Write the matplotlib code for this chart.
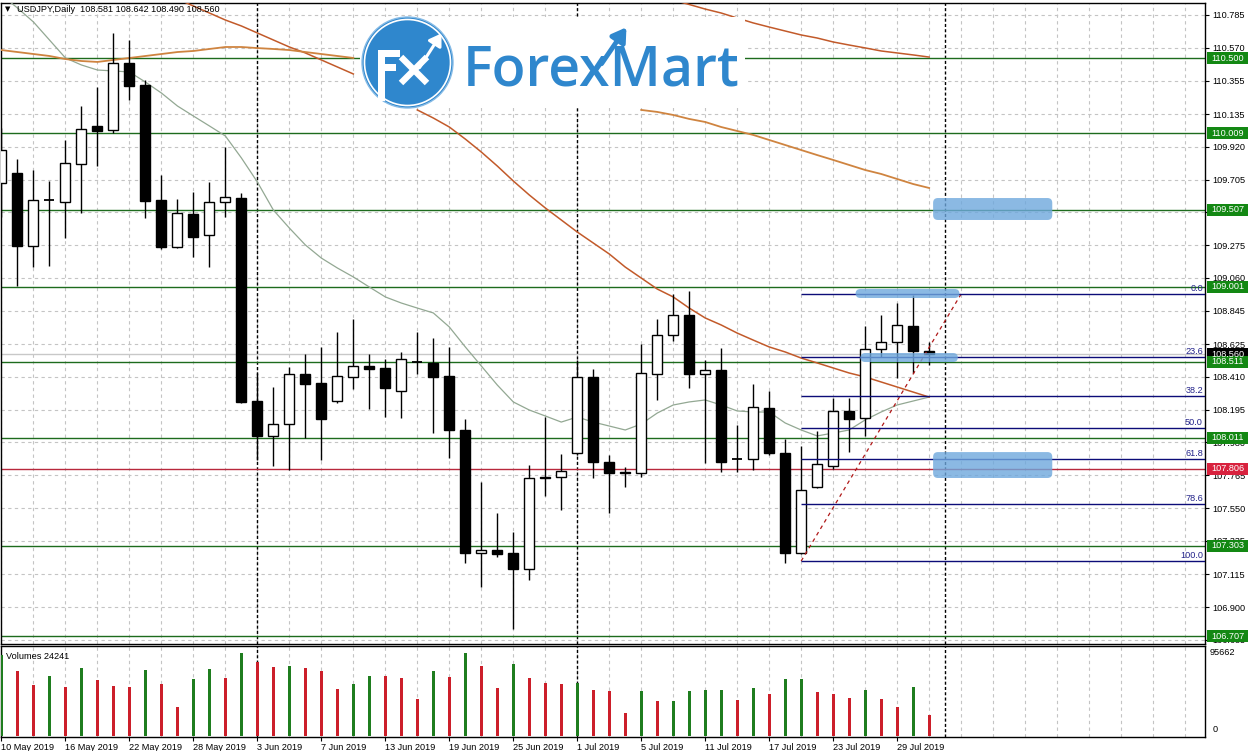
import numpy as np
import matplotlib
matplotlib.use("Agg")
import matplotlib.pyplot as plt
from matplotlib.patches import Rectangle, FancyBboxPatch, Circle
from matplotlib.transforms import blended_transform_factory

plt.rcParams['font.family'] = ['Liberation Sans', 'DejaVu Sans']
nan = float("nan")

# ---------------- data ----------------
header_text = "USDJPY,Daily  108.581 108.642 108.490 108.560"

opens = [109.683, 109.748, 109.269, 109.571, 109.558, 109.807, 110.057, 110.030, 110.470, 110.326,
         109.571, 109.263, 109.479, 109.341, 109.558, 109.584, 108.252, 108.023, 108.101, 108.429,
         108.370, 108.252, 108.410, 108.482, 108.469, 108.318, 108.510, 108.502, 108.416, 108.062,
         107.255, 107.275, 107.255, 107.150, 107.753, 107.753, 107.911, 108.410, 107.852, 107.787,
         107.780, 108.429, 108.685, 108.817, 108.429, 108.456, 107.870, 107.872, 108.206, 107.911,
         107.255, 107.688, 107.826, 108.187, 108.141, 108.593, 108.639, 108.744, 108.581]
highs = [110.044, 109.840, 109.768, 109.696, 109.965, 110.188, 110.313, 110.667, 110.621, 110.358,
         109.735, 109.578, 109.624, 109.689, 109.919, 109.617, 108.436, 108.344, 108.475, 108.561,
         108.607, 108.705, 108.790, 108.561, 108.528, 108.574, 108.705, 108.666, 108.607, 108.134,
         107.721, 107.517, 107.393, 107.832, 108.147, 107.904, 108.521, 108.462, 107.898, 107.819,
         108.626, 108.790, 108.954, 108.974, 108.521, 108.600, 108.095, 108.364, 108.318, 108.003,
         107.957, 108.055, 108.272, 108.272, 108.744, 108.817, 108.895, 108.950, 108.642]
lows = [109.460, 109.007, 109.131, 109.138, 109.322, 109.486, 109.794, 110.011, 110.227, 109.453,
        109.250, 109.255, 109.197, 109.131, 109.460, 108.239, 107.865, 107.826, 107.799, 108.009,
        107.865, 108.240, 108.331, 108.200, 108.147, 108.141, 108.429, 108.042, 107.878, 107.189,
        107.032, 107.229, 106.756, 107.078, 107.629, 107.537, 107.900, 107.747, 107.517, 107.688,
        107.753, 108.259, 108.646, 108.338, 107.845, 107.786, 107.786, 107.799, 107.898, 107.189,
        107.250, 107.680, 107.806, 107.918, 108.023, 108.541, 108.403, 108.436, 108.490]
closes = [109.899, 109.269, 109.571, 109.575, 109.814, 110.037, 110.024, 110.470, 110.319, 109.565,
          109.263, 109.486, 109.328, 109.558, 109.591, 108.246, 108.023, 108.101, 108.429, 108.364,
          108.134, 108.416, 108.482, 108.462, 108.338, 108.528, 108.506, 108.410, 108.062, 107.255,
          107.275, 107.248, 107.150, 107.747, 107.747, 107.793, 108.410, 107.852, 107.780, 107.780,
          108.436, 108.685, 108.817, 108.429, 108.456, 107.852, 107.874, 108.213, 107.911, 107.255,
          107.668, 107.839, 108.187, 108.134, 108.593, 108.639, 108.751, 108.581, 108.560]
volumes = [92600, 74250, 58170, 68500, 56250, 77700, 63900, 57000, 56200, 75400,
           59300, 33300, 65000, 76500, 66200, 95662, 84950, 78850, 80000, 77700,
           74250, 53950, 59300, 68500, 68400, 66200, 42100, 74250, 67350, 94900,
           80350, 55100, 83000, 66600, 60850, 59700, 60850, 52800, 51650, 26400,
           51650, 40200, 40500, 51650, 52800, 53200, 41300, 55100, 48600, 65400,
           65800, 50500, 48600, 44000, 52800, 42500, 33300, 56250, 24241]

ma_fast = [110.916, 110.831, 110.739, 110.621, 110.503, 110.457, 110.424, 110.418, 110.411, 110.345,
           110.273, 110.188, 110.122, 110.057, 109.991, 109.847, 109.689, 109.505, 109.387, 109.276,
           109.190, 109.125, 109.066, 109.000, 108.935, 108.895, 108.862, 108.830, 108.738, 108.607,
           108.482, 108.357, 108.246, 108.193, 108.154, 108.114, 108.147, 108.114, 108.088, 108.062,
           108.101, 108.173, 108.226, 108.246, 108.259, 108.226, 108.187, 108.180, 108.180, 108.108,
           108.062, 108.023, 108.042, 108.062, 108.128, 108.180, 108.226, 108.252, 108.278]
ma_mid = [nan, nan, nan, nan, nan, nan, nan, nan, nan, nan,
          110.929, 110.890, 110.844, 110.798, 110.752, 110.713, 110.667, 110.621, 110.575, 110.536,
          110.490, 110.444, 110.398, nan, nan, nan, 110.162, 110.109, 110.050, 109.971,
          109.886, 109.794, 109.696, 109.604, 109.519, 109.440, 109.361, 109.289, 109.217, 109.131,
          109.059, 108.987, 108.935, 108.862, 108.797, 108.751, 108.698, 108.652, 108.607, 108.574,
          108.534, 108.502, 108.469, 108.436, 108.410, 108.377, 108.344, 108.311, 108.278]
ma_slow = [110.555, 110.542, 110.529, 110.516, 110.496, 110.483, 110.477, 110.490, 110.503, 110.516,
           110.529, 110.542, 110.549, 110.562, 110.575, 110.575, 110.568, 110.562, 110.555, 110.542,
           110.529, 110.516, 110.503, nan, nan, nan, nan, nan, nan, nan,
           nan, nan, nan, nan, nan, nan, nan, nan, nan, nan,
           110.162, 110.149, 110.129, 110.103, 110.083, 110.050, 110.024, 109.998, 109.965, 109.932,
           109.899, 109.866, 109.834, 109.801, 109.768, 109.742, 109.709, 109.676, 109.650]
ma_long = [nan] * 41 + [110.903, 110.883, 110.854, 110.824, 110.798, 110.765, 110.733, 110.706, 110.680,
                        110.654, 110.634, 110.608, 110.588, 110.569, 110.549, 110.536, 110.523, 110.509]

price_ticks = [110.785, 110.570, 110.355, 110.135, 109.920, 109.705, 109.490, 109.275, 109.060, 108.845,
               108.625, 108.410, 108.195, 107.980, 107.765, 107.550, 107.335, 107.115, 106.900, 106.685]
date_labels = ["10 May 2019", "16 May 2019", "22 May 2019", "28 May 2019", "3 Jun 2019", "7 Jun 2019",
               "13 Jun 2019", "19 Jun 2019", "25 Jun 2019", "1 Jul 2019", "5 Jul 2019", "11 Jul 2019",
               "17 Jul 2019", "23 Jul 2019", "29 Jul 2019"]
date_positions = [0, 4, 8, 12, 16, 20, 24, 28, 32, 36, 40, 44, 48, 52, 56]
month_separators = [16, 36, 59]

green_levels = [110.500, 110.009, 109.507, 109.001, 108.511, 108.011, 107.303, 106.707]
red_level = 107.806
bid_price = 108.560

fib_low, fib_high = 107.202, 108.954
fib_start, fib_end = 50, 60
fib_ratios = [0.0, 23.6, 38.2, 50.0, 61.8, 78.6, 100.0]

volume_max_label = 95662
volume_current = 24241

highlight_zones = [(58.25, 65.7, 109.440, 109.584),
                   (53.4, 59.9, 108.928, 108.987),
                   (53.7, 59.8, 108.508, 108.567),
                   (58.25, 65.7, 107.747, 107.917)]

# ---------------- layout ----------------
W, H = 1250, 751
fig = plt.figure(figsize=(12.5, 7.51), dpi=100)
fig.patch.set_facecolor('white')

def fx(px):
    return px / W

def fy(py):
    return 1 - py / H

PX_PER_PRICE = 152.4
X_LEFT = -1 / 16
X_RIGHT = (1205 - 1) / 16
P_TOP = 110.785 + 12 / PX_PER_PRICE
P_BOT = 110.785 - 629 / PX_PER_PRICE

ax = fig.add_axes([fx(0.5), fy(644), fx(1204.5), (644 - 3) / H])
vax = fig.add_axes([fx(0.5), fy(737), fx(1204.5), (737 - 646) / H])

FS = 6.6
grid_kw = dict(color='#c4c4c4', lw=0.8, dashes=(3, 3), zorder=0)

for a in (ax, vax):
    a.set_xlim(X_LEFT, X_RIGHT)
    for s in a.spines.values():
        s.set_color('black')
        s.set_linewidth(1)
    for gx in range(0, 76, 2):
        a.axvline(gx, **grid_kw)
    for ms in month_separators:
        a.axvline(ms, color='black', lw=1, dashes=(2.2, 1.6), zorder=1)

ax.set_ylim(P_BOT, P_TOP)
for t in price_ticks:
    ax.axhline(t, **grid_kw)

ax.yaxis.tick_right()
ax.set_yticks(price_ticks)
ax.set_yticklabels([f"{t:.3f}" for t in price_ticks])
ax.tick_params(axis='y', length=3, width=0.8, pad=2, labelsize=FS, direction='out')
ax.tick_params(axis='x', length=0, labelbottom=False)

# horizontal levels
ax.axhline(bid_price, color='#c8c8c8', lw=1, zorder=1)
for lv in green_levels:
    ax.axhline(lv, color='#1d6b1d', lw=1, zorder=2)
ax.axhline(red_level, color='#b8283c', lw=1, zorder=2)

# moving averages
x = np.arange(len(closes))
ax.plot(x, ma_fast, color='#93a893', lw=0.9, zorder=3)
ax.plot(x, ma_mid, color='#c25a2a', lw=1.1, zorder=3)
ax.plot(x, ma_slow, color='#cf8440', lw=1.3, zorder=3)
ax.plot(x, ma_long, color='#c25a2a', lw=1.1, zorder=3)

# candles
bw = 10 / 16
for i, (o, h, l, c) in enumerate(zip(opens, highs, lows, closes)):
    ax.vlines(i, l, h, color='black', lw=1, zorder=4)
    lo, hi = min(o, c), max(o, c)
    if hi - lo < 0.0055:
        ax.hlines((o + c) / 2, i - bw / 2, i + bw / 2, color='black', lw=1.3, zorder=5)
    else:
        ax.add_patch(Rectangle((i - bw / 2, lo), bw, hi - lo,
                               facecolor='white' if c > o else 'black',
                               edgecolor='black', lw=1, zorder=5))

# fibonacci
fib_color = '#0c0c78'
ax.plot([fib_start, fib_end], [fib_low, fib_high], color='#b01818', lw=0.9,
        dashes=(3, 3), zorder=6)
for r in fib_ratios:
    lv = fib_high - r / 100 * (fib_high - fib_low)
    ax.hlines(lv, fib_start, X_RIGHT, color=fib_color, lw=1, zorder=6)
    ax.text((1203 - 1) / 16, lv + 0.006, f"{r:.1f}", ha='right', va='bottom',
            fontsize=FS, color='#23238a', zorder=7)

# highlight strokes
for (x0, x1, p0, p1) in highlight_zones:
    ax.add_patch(FancyBboxPatch((x0, p0), x1 - x0, p1 - p0,
                                boxstyle="round,pad=0,rounding_size=0.3",
                                mutation_aspect=16 / PX_PER_PRICE,
                                facecolor='#6ea8dd', edgecolor='none', alpha=0.8, zorder=8))

# price label boxes
btr = blended_transform_factory(ax.transAxes, ax.transData)
box_h = 12 / PX_PER_PRICE
bx0 = (1207 - 0.5) / 1204.5
bwid = 41 / 1204.5

def price_box(p, fc):
    ax.add_patch(Rectangle((bx0, p - box_h / 2), bwid, box_h, transform=btr,
                           facecolor=fc, edgecolor='none', clip_on=False, zorder=20))
    ax.text(bx0 + bwid / 2, p, f"{p:.3f}", transform=btr, ha='center', va='center',
            fontsize=FS, color='white', clip_on=False, zorder=21)

price_box(bid_price, 'black')
for lv in green_levels:
    price_box(lv, '#138813')
price_box(red_level, '#d8223e')

# volume panel
vscale = volume_max_label / 83.3
vax.set_ylim(-1 * vscale, 90 * vscale)
vcolors = ['#1f7d1f'] + ['#1f7d1f' if volumes[k] > volumes[k - 1] else '#cc1f2a'
                          for k in range(1, len(volumes))]
vax.bar(x, volumes, width=3 / 16, color=vcolors, zorder=3)
vax.set_yticks([])
vax.set_xticks(date_positions)
vax.set_xticklabels(date_labels, ha='left', fontsize=FS)
vax.tick_params(axis='x', length=3, width=0.8, pad=1)
vtr = blended_transform_factory(vax.transAxes, vax.transData)
vax.text(1209 / 1204.5, volume_max_label, str(volume_max_label), transform=vtr,
         ha='left', va='center', fontsize=FS, clip_on=False)
vax.text(1212 / 1204.5, 6 * vscale, "0", transform=vtr,
         ha='left', va='center', fontsize=FS, clip_on=False)
vax.text(5 / 1204.5, 0.88, f"Volumes {volume_current}", transform=vax.transAxes,
         ha='left', va='center', fontsize=FS)

# header
fig.text(fx(5), fy(9.5), "\u25BC", fontsize=5, va='center', ha='left',
         family=['DejaVu Sans'])
fig.text(fx(17), fy(9.5), header_text, fontsize=FS, va='center', ha='left')

# logo overlay (pixel coordinates)
ov = fig.add_axes([0, 0, 1, 1], zorder=10)
ov.set_xlim(0, W)
ov.set_ylim(H, 0)
ov.axis('off')
logo_blue = '#2f87cd'
ov.add_patch(Rectangle((360, 17), 385, 91, facecolor='white', edgecolor='none'))
ov.add_patch(Circle((407.5, 62.5), 45.5, facecolor=logo_blue, edgecolor='#86bbe6', lw=1))
ov.add_patch(Circle((407.5, 62.5), 43, fill=False, edgecolor='white', lw=1.2))
# F
ov.add_patch(Rectangle((378, 50), 7, 51, facecolor='white', edgecolor='none'))
ov.add_patch(Rectangle((378, 50), 22, 6.5, facecolor='white', edgecolor='none'))
ov.add_patch(Rectangle((378, 64), 18, 6.5, facecolor='white', edgecolor='none'))
# x
ov.plot([401, 427], [57, 83], color='white', lw=4.6, solid_capstyle='butt')
ov.plot([427, 401], [57, 83], color='white', lw=4.6, solid_capstyle='butt')
ov.annotate('', xy=(443, 31), xytext=(418, 70),
            arrowprops=dict(arrowstyle='-|>,head_length=0.7,head_width=0.45',
                            color='white', lw=2.2))
ov.text(463, 85, "ForexMart", fontsize=40, fontweight='semibold', family=['Open Sans'],
        color=logo_blue, va='baseline', ha='left')
ov.annotate('', xy=(628, 25), xytext=(600, 66),
            arrowprops=dict(arrowstyle='-|>,head_length=0.8,head_width=0.5',
                            color=logo_blue, lw=3.5))

fig.savefig('out.png', dpi=100)
